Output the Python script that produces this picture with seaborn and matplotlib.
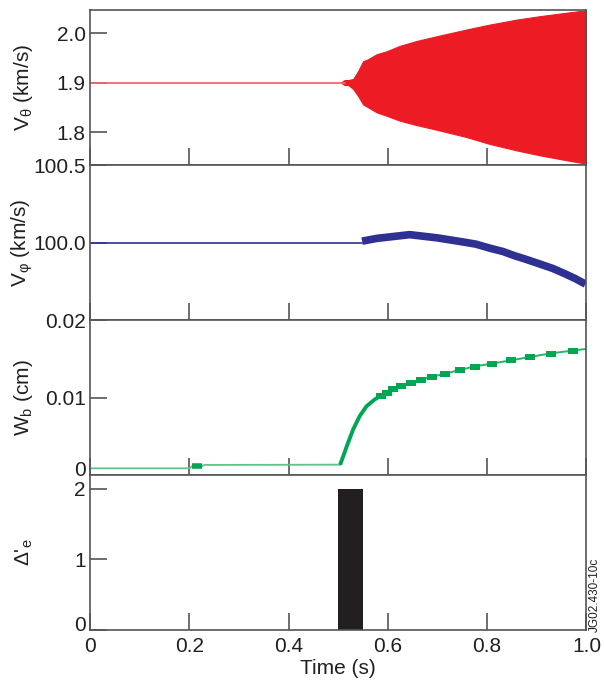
import numpy as np
import pandas as pd
import matplotlib
matplotlib.use("Agg")
import matplotlib.pyplot as plt
import matplotlib.transforms as mtransforms
import seaborn as sns

# ---------------- data ----------------
# Panel 1: V_theta
vtheta_flat_t = [0.0, 0.513]
vtheta_flat = [1.9, 1.9]
env_t = [0.505, 0.513, 0.520, 0.530, 0.540, 0.550, 0.560, 0.577, 0.597, 0.624,
         0.658, 0.705, 0.758, 0.805, 0.859, 0.906, 0.960, 1.0]
env_upper = [1.900, 1.905, 1.905, 1.907, 1.923, 1.943, 1.947, 1.957, 1.963, 1.974,
             1.984, 1.995, 2.007, 2.017, 2.027, 2.034, 2.041, 2.046]
env_lower = [1.900, 1.895, 1.895, 1.887, 1.873, 1.856, 1.850, 1.840, 1.833, 1.823,
             1.814, 1.803, 1.790, 1.776, 1.763, 1.753, 1.743, 1.736]

# Panel 2: V_phi
vphi_flat_t = [0.0, 0.548]
vphi_flat = [100.0, 100.0]
vphi_t = [0.548, 0.578, 0.644, 0.700, 0.747, 0.777, 0.805, 0.832, 0.856, 0.876,
          0.902, 0.932, 0.957, 0.977, 0.998]
vphi = [100.010, 100.028, 100.052, 100.031, 100.007, 99.991, 99.965, 99.943, 99.915,
        99.895, 99.867, 99.834, 99.799, 99.769, 99.733]

# Panel 3: W_b
wb_base_t = [0.0, 0.200, 0.205, 0.225, 0.230, 0.504]
wb_base = [0.00088, 0.00088, 0.00114, 0.00114, 0.00132, 0.00136]
wb_t = [0.504, 0.516, 0.530, 0.543, 0.557, 0.574, 0.597, 0.627, 0.664, 0.715,
        0.772, 0.846, 0.926, 1.0]
wb = [0.00136, 0.00352, 0.0059, 0.0076, 0.0089, 0.0098, 0.01065, 0.0115, 0.0123,
      0.0131, 0.0140, 0.0148, 0.0157, 0.0163]
wb_mark_t = [0.587, 0.598, 0.610, 0.627, 0.647, 0.666, 0.689, 0.715, 0.745, 0.775,
             0.810, 0.848, 0.886, 0.928, 0.972]
wb_mark = [0.0102, 0.01065, 0.0111, 0.0115, 0.0119, 0.0123, 0.0127, 0.0131, 0.0136,
           0.0140, 0.0144, 0.0148, 0.0152, 0.0157, 0.0160]

# Panel 4: Delta'_e
de_start = [0.50]
de_width = [0.05]
de_value = [2.0]

x_ticks = [0, 0.2, 0.4, 0.6, 0.8, 1.0]
x_ticklabels = ["0", "0.2", "0.4", "0.6", "0.8", "1.0"]

# ---------------- style ----------------
sns.set_theme(style="ticks")
plt.rcParams["font.family"] = ["Liberation Sans", "DejaVu Sans"]
plt.rcParams["mathtext.fontset"] = "custom"
plt.rcParams["mathtext.rm"] = "Liberation Sans"
plt.rcParams["mathtext.it"] = "Liberation Sans:italic"
TXT = "#231f20"
SP = "#555555"

RED = "#ed1c24"
BLUE = "#2e3192"
GREEN = "#00a651"

fig = plt.figure(figsize=(6.04, 6.82), dpi=100)
axes = fig.subplots(4, 1, sharex=True)
fig.subplots_adjust(left=0.149, right=0.971, top=0.985, bottom=0.076, hspace=0)

# Panel 1
ax = axes[0]
sns.lineplot(x=vtheta_flat_t, y=vtheta_flat, ax=ax, color="#f0676c", lw=1.3)
ax.fill_between(env_t, env_lower, env_upper, color=RED, lw=0.8, edgecolor=RED)
ax.set_ylim(1.733, 2.046)
ax.set_yticks([1.8, 1.9, 2.0])
ax.set_yticklabels(["1.8", "1.9", "2.0"])
ax.set_ylabel("V$_\\mathregular{θ}$ (km/s)")

# Panel 2
ax = axes[1]
sns.lineplot(x=vphi_flat_t, y=vphi_flat, ax=ax, color=BLUE, lw=1.2)
sns.lineplot(x=vphi_t, y=vphi, ax=ax, color=BLUE, lw=5.5,
             solid_capstyle="butt", solid_joinstyle="miter")
ax.set_ylim(99.5, 100.5)
ax.set_yticks([100.0, 100.5])
ax.set_yticklabels(["100.0", "100.5"])
ax.set_ylabel("V$_\\mathregular{φ}$ (km/s)")

# Panel 3
ax = axes[2]
sns.lineplot(x=wb_base_t, y=wb_base, ax=ax, color="#5cc488", lw=1.3)
sns.lineplot(x=wb_base_t[2:4], y=wb_base[2:4], ax=ax, color=GREEN, lw=4,
             solid_capstyle="butt")
sns.lineplot(x=wb_t, y=wb, ax=ax, color="#2fb066", lw=1.4)
sns.lineplot(x=wb_t[:7], y=wb[:7], ax=ax, color=GREEN, lw=2.8,
             solid_capstyle="butt")
rect = [(-1, -0.55), (1, -0.55), (1, 0.55), (-1, 0.55)]
ax.plot(wb_mark_t, wb_mark, ls="none", marker=rect, ms=7.5, color=GREEN, mew=0)
ax.set_ylim(0, 0.02)
ax.set_yticks([0, 0.01, 0.02])
ax.set_yticklabels(["0", "0.01", "0.02"])
ax.set_ylabel("W$_\\mathregular{b}$ (cm)")

# Panel 4
ax = axes[3]
ax.bar(de_start, de_value, width=de_width, align="edge", color=TXT, lw=0)
ax.set_ylim(0, 2.19)
ax.set_yticks([0, 1, 2])
ax.set_yticklabels(["0", "1", "2"])
ax.set_ylabel("$\\mathit{Δ}$'$_\\mathregular{e}$")
ax.set_xlim(0, 1.0)
ax.set_xticks(x_ticks)
ax.set_xticklabels(x_ticklabels)
ax.set_xlabel("Time (s)", fontsize=15, color=TXT, labelpad=2)

for i, ax in enumerate(axes):
    for s in ax.spines.values():
        s.set_color(SP)
        s.set_linewidth(1.2)
        s.set_visible(True)
    ax.tick_params(axis="both", direction="in", length=12, width=1.2, color=SP,
                   labelsize=15, labelcolor=TXT, top=False, right=False)
    ax.tick_params(axis="y", pad=3)
    ax.tick_params(axis="x", pad=5)
    ax.yaxis.label.set_fontsize(15)
    ax.yaxis.label.set_color(TXT)
    ax.yaxis.set_label_coords(-0.110, 0.5)

# raise the bottom "0" labels slightly as in the reference
for ax in (axes[2], axes[3]):
    lbl = ax.get_yticklabels()[0]
    lbl.set_transform(lbl.get_transform() +
                      mtransforms.ScaledTranslation(0, 5 / 72, fig.dpi_scale_trans))

fig.text(0.985, 0.128, "JG02.430-10c", rotation=90, fontsize=8.5, color=TXT,
         ha="center", va="center")

fig.savefig("out.png", dpi=100)
